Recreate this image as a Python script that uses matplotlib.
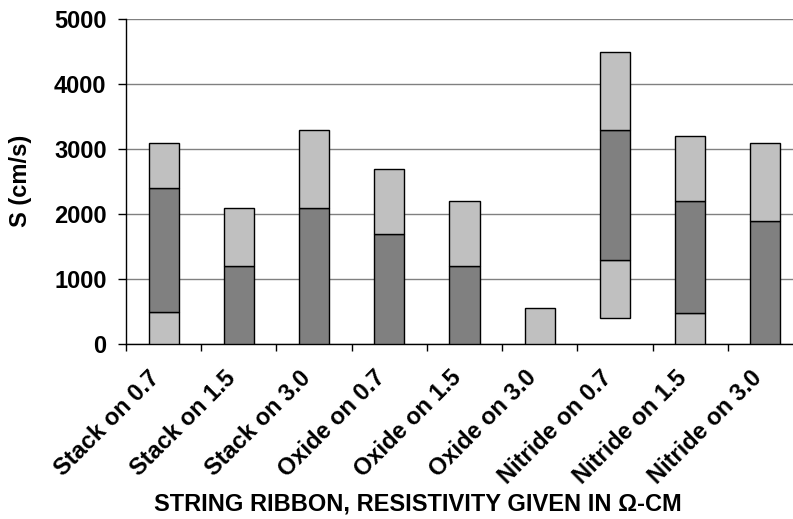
import numpy as np
import matplotlib.pyplot as plt
from matplotlib.transforms import ScaledTranslation

# Surface recombination velocity ranges per sample
samples = ['Stack on 0.7', 'Stack on 1.5', 'Stack on 3.0',
           'Oxide on 0.7', 'Oxide on 1.5', 'Oxide on 3.0',
           'Nitride on 0.7', 'Nitride on 1.5', 'Nitride on 3.0']
# stacked segment heights (cm/s)
offset = [0, 0, 0, 0, 0, 0, 400, 0, 0]
light_low = [500, 0, 0, 0, 0, 550, 900, 470, 0]
dark_mid = [1900, 1200, 2100, 1700, 1200, 0, 2000, 1730, 1900]
light_high = [700, 900, 1200, 1000, 1000, 0, 1200, 1000, 1200]

plt.rcParams['font.family'] = ['Liberation Sans', 'DejaVu Sans']

fig = plt.figure(figsize=(7.93, 5.19), dpi=100)
ax = fig.add_axes([126 / 793, 1 - 344 / 519, 677 / 793, 325 / 519])

x = np.arange(len(samples))
w = 0.4
bottom = np.array(offset, dtype=float)
for vals, col in [(light_low, '#C0C0C0'), (dark_mid, '#808080'), (light_high, '#C0C0C0')]:
    vals = np.array(vals, dtype=float)
    m = vals > 0
    ax.bar(x[m], vals[m], w, bottom=bottom[m], color=col, edgecolor='black',
           linewidth=1.0, zorder=3)
    bottom = bottom + vals

ax.set_xlim(-0.5, len(samples) - 0.5)
ax.set_ylim(0, 5000)
ax.set_yticks(np.arange(0, 5001, 1000))
ax.grid(axis='y', color='#808080', linewidth=1.0, zorder=0)

ax.set_xticks(x)
ax.set_xticklabels(samples, rotation=45, ha='right', rotation_mode='anchor',
                   fontsize=17, fontweight='bold')
ax.set_xticks(np.arange(-0.5, len(samples), 1.0), minor=True)
ax.tick_params(axis='x', which='major', length=0, pad=12)
ax.tick_params(axis='x', which='minor', length=5, width=1, direction='out')
ax.tick_params(axis='y', length=6, width=1, direction='out', pad=8)
for lab in ax.get_yticklabels():
    lab.set_fontsize(17)
    lab.set_fontweight('bold')
# nudge the slanted labels to sit left of the bar centres
shift = ScaledTranslation(-11 / 72, -4 / 72, fig.dpi_scale_trans)
for lab in ax.get_xticklabels():
    lab.set_transform(lab.get_transform() + shift)

for s in ['top', 'right']:
    ax.spines[s].set_visible(False)
ax.spines['left'].set_linewidth(1.0)
ax.spines['bottom'].set_linewidth(1.0)

fig.text(21 / 793, 1 - 181 / 519, 'S (cm/s)', rotation=90, fontsize=17,
         fontweight='bold', ha='center', va='center')
fig.text(418 / 793, 1 - 504 / 519, 'STRING RIBBON, RESISTIVITY GIVEN IN Ω-CM',
         fontsize=17, fontweight='bold', ha='center', va='center')

fig.savefig('out.png', dpi=100)
